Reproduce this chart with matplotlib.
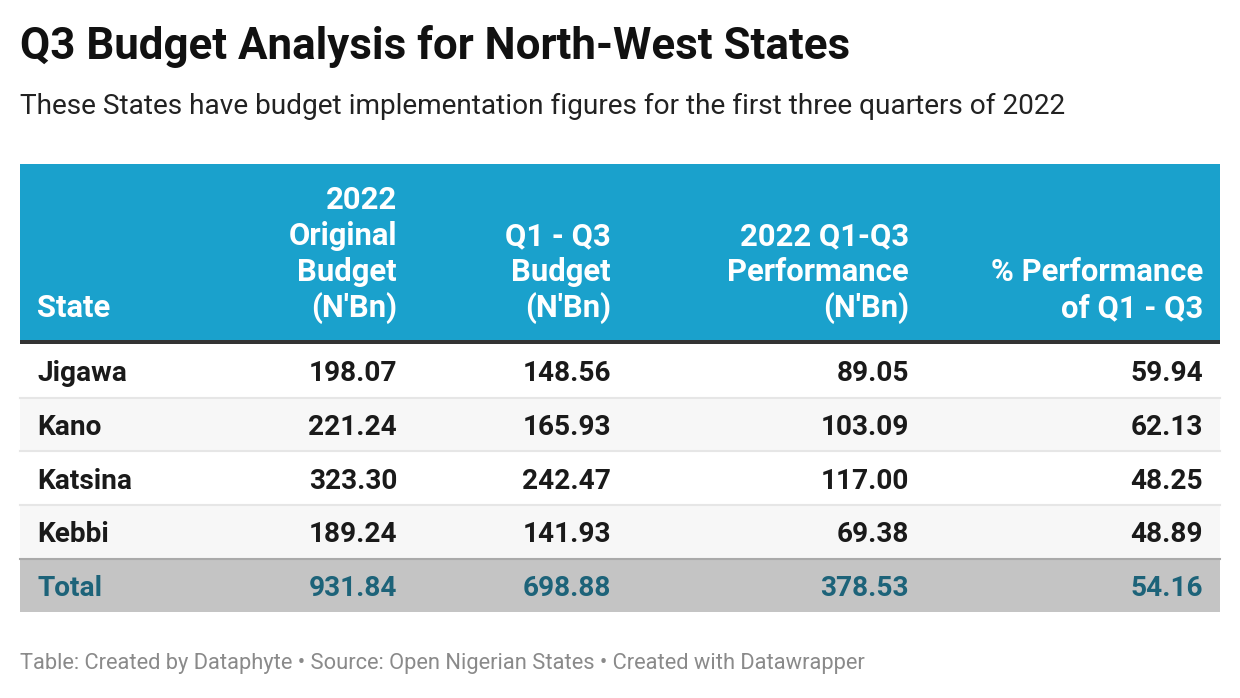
import matplotlib.pyplot as plt
from matplotlib.patches import Rectangle

plt.rcParams['font.family'] = ['Roboto', 'DejaVu Sans']

# data
states = ['Jigawa', 'Kano', 'Katsina', 'Kebbi']
original_budget = [198.07, 221.24, 323.30, 189.24]
q1q3_budget = [148.56, 165.93, 242.47, 141.93]
q1q3_performance = [89.05, 103.09, 117.00, 69.38]
pct_performance = [59.94, 62.13, 48.25, 48.89]
totals = [931.84, 698.88, 378.53, 54.16]

headers = ['State', '2022\nOriginal\nBudget\n(N\'Bn)', 'Q1 - Q3\nBudget\n(N\'Bn)',
           '2022 Q1-Q3\nPerformance\n(N\'Bn)', '% Performance\nof Q1 - Q3']

HEADER_BG = '#1aa1cc'
TOTAL_BG = '#c4c4c4'
TOTAL_FG = '#1d6379'
STRIPE = '#f7f7f7'
TEXT = '#1a1a1a'
FS_HEAD = 22.3
FS_BODY = 20.2

W, H = 1240, 698
fig = plt.figure(figsize=(W / 100, H / 100), dpi=100)
ax = fig.add_axes([0, 0, 1, 1])
ax.set_xlim(0, W)
ax.set_ylim(H, 0)
ax.axis('off')

x0, x1 = 20, 1220
col_x = [37, 397, 611, 909, 1203]
col_ha = ['left', 'right', 'right', 'right', 'right']

ax.text(20, 46, 'Q3 Budget Analysis for North-West States', fontsize=31.6,
        fontweight='bold', color='#111111', va='center', ha='left')
ax.text(20, 106, 'These States have budget implementation figures for the first three quarters of 2022',
        fontsize=20.15, color='#222222', va='center', ha='left')

# header block
ax.add_patch(Rectangle((x0, 164), x1 - x0, 176, color=HEADER_BG, lw=0))
ax.add_patch(Rectangle((x0, 340), x1 - x0, 4, color='#333333', lw=0))
for x, ha, label in zip(col_x, col_ha, headers):
    lines = label.split('\n')
    for k, line in enumerate(reversed(lines)):
        ax.text(x, 305 - 36 * k, line, fontsize=FS_HEAD, fontweight='bold',
                color='white', ha=ha, va='center_baseline')

# body rows
row_top = 344
row_h = 53.7
for i, name in enumerate(states):
    top = row_top + i * row_h
    if i % 2 == 1:
        ax.add_patch(Rectangle((x0, top), x1 - x0, row_h, color=STRIPE, lw=0))
    if i > 0:
        ax.plot([x0, x1], [top, top], color='#e6e6e6', lw=1.5)
    cy = top + row_h / 2
    vals = [name, f'{original_budget[i]:.2f}', f'{q1q3_budget[i]:.2f}',
            f'{q1q3_performance[i]:.2f}', f'{pct_performance[i]:.2f}']
    for x, ha, v in zip(col_x, col_ha, vals):
        ax.text(x, cy, v, fontsize=FS_BODY, fontweight='bold', color=TEXT,
                ha=ha, va='center_baseline')

# total row
top = row_top + len(states) * row_h
ax.add_patch(Rectangle((x0, top), x1 - x0, 612 - top, color=TOTAL_BG, lw=0))
ax.plot([x0, x1], [top, top], color='#aaaaaa', lw=1.5)
cy = (top + 612) / 2
vals = ['Total'] + [f'{v:.2f}' for v in totals]
for x, ha, v in zip(col_x, col_ha, vals):
    ax.text(x, cy, v, fontsize=FS_BODY, fontweight='bold', color=TOTAL_FG,
            ha=ha, va='center_baseline')

ax.text(20, 664, 'Table: Created by Dataphyte \u2022 Source: Open Nigerian States \u2022 Created with Datawrapper',
        fontsize=15.75, color='#8a8a8a', ha='left', va='center')

fig.savefig('out.png', dpi=100)
